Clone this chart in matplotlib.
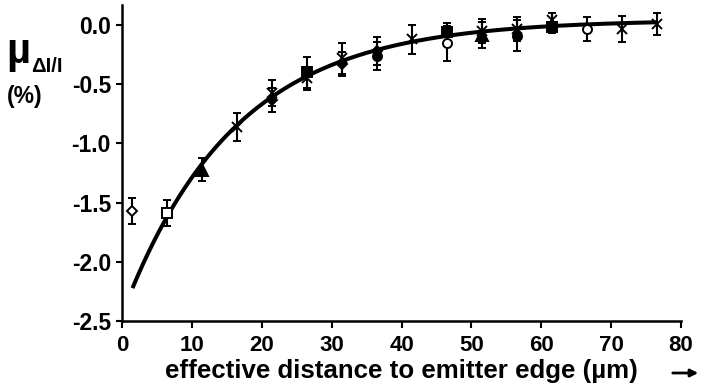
import numpy as np
import matplotlib
matplotlib.use("Agg")
import matplotlib.pyplot as plt

plt.rcParams['font.family'] = ['Liberation Sans', 'DejaVu Sans']
plt.rcParams['font.weight'] = 'bold'

# Measurements grouped by marker style: distance (um), mean (%), error (%)
open_diamond_x = [1.5]
open_diamond_y = [-1.57]
open_diamond_e = [0.11]

open_square_x = [6.5]
open_square_y = [-1.59]
open_square_e = [0.11]

triangle_x = [11.5, 51.5]
triangle_y = [-1.22, -0.085]
triangle_e = [0.10, 0.11]

cross_x = [16.5, 21.5, 26.5, 31.5, 41.5, 51.5, 56.5, 61.5, 71.5, 76.5]
cross_y = [-0.86, -0.57, -0.45, -0.28, -0.12, -0.05, -0.03, 0.04, -0.03, 0.01]
cross_e = [0.12, 0.11, 0.10, 0.13, 0.12, 0.10, 0.10, 0.06, 0.11, 0.095]

filled_diamond_x = [21.5, 31.5, 36.5]
filled_diamond_y = [-0.63, -0.33, -0.22]
filled_diamond_e = [0.10, 0.10, 0.12]

filled_circle_x = [36.5, 56.5]
filled_circle_y = [-0.26, -0.09]
filled_circle_e = [0.12, 0.13]

open_circle_x = [46.5, 66.5]
open_circle_y = [-0.155, -0.03]
open_circle_e = [0.15, 0.10]

filled_square_x = [26.5, 46.5, 61.5]
filled_square_y = [-0.40, -0.06, -0.02]
filled_square_e = [0.13, 0.08, 0.05]

# Exponential fit: y = offset - amplitude * exp(-x / length)
fit_offset = 0.045
fit_amplitude = 2.49
fit_length = 16.0
fit_start, fit_end = 1.5, 76.5

x_ticks = [0, 10, 20, 30, 40, 50, 60, 70, 80]
y_ticks = [0.0, -0.5, -1.0, -1.5, -2.0, -2.5]

W, H = 702, 392
fig = plt.figure(figsize=(W / 100, H / 100), dpi=100)
ax = fig.add_axes([122 / W, 1 - 321 / H, (681 - 122) / W, (321 - 5) / H])

xf = np.linspace(fit_start, fit_end, 300)
yf = fit_offset - fit_amplitude * np.exp(-xf / fit_length)
ax.plot(xf, yf, color='black', lw=2.9, solid_capstyle='butt', zorder=3)

eb = dict(color='black', ecolor='black', elinewidth=1.5, capsize=3.0,
          capthick=1.5, linestyle='none', zorder=4, markersize=6.5,
          markeredgewidth=1.4)

ax.errorbar(open_diamond_x, open_diamond_y, yerr=open_diamond_e, marker='D',
            mfc='white', mec='black', **{**eb, 'markersize': 5})
ax.errorbar(open_square_x, open_square_y, yerr=open_square_e, marker='s',
            mfc='white', mec='black', **eb)
ax.errorbar(triangle_x, triangle_y, yerr=triangle_e, marker='^',
            mfc='black', mec='black', **{**eb, 'markersize': 8})
ax.errorbar(cross_x, cross_y, yerr=cross_e, marker='x',
            mfc='black', mec='black', **eb)
ax.errorbar(filled_diamond_x, filled_diamond_y, yerr=filled_diamond_e,
            marker='D', mfc='black', mec='black', **{**eb, 'markersize': 5.5})
ax.errorbar(filled_circle_x, filled_circle_y, yerr=filled_circle_e,
            marker='o', mfc='black', mec='black', **eb)
ax.errorbar(open_circle_x, open_circle_y, yerr=open_circle_e, marker='o',
            mfc='white', mec='black', **eb)
ax.errorbar(filled_square_x, filled_square_y, yerr=filled_square_e,
            marker='s', mfc='black', mec='black', **eb)

ax.set_xlim(0, 80)
ax.set_ylim(-2.5, 0.17)
ax.set_xticks(x_ticks)
ax.set_yticks(y_ticks)
ax.set_xticklabels([str(t) for t in x_ticks])
ax.set_yticklabels([f"{t:.1f}" for t in y_ticks])

for side in ('top', 'right'):
    ax.spines[side].set_visible(False)
for side in ('left', 'bottom'):
    ax.spines[side].set_linewidth(1.8)
ax.tick_params(axis='x', direction='out', length=5, width=1.5,
               labelsize=16, pad=5)
ax.tick_params(axis='y', direction='out', length=4, width=1.5,
               labelsize=16.5, pad=4)
for lab in ax.get_xticklabels() + ax.get_yticklabels():
    lab.set_fontweight('bold')

ax.set_xlabel('effective distance to emitter edge (µm)', fontsize=18.6,
              fontweight='bold', labelpad=2)

fig.text(6 / W, 1 - 63 / H, 'µ', fontsize=30, fontweight='bold',
         va='baseline', ha='left')
fig.text(31 / W, 1 - 72 / H, 'ΔI/I', fontsize=14.5, fontweight='bold',
         va='baseline', ha='left')
fig.text(7 / W, 1 - 103 / H, '(%)', fontsize=16.5, fontweight='bold',
         va='baseline', ha='left')

ax.annotate('', xy=(701 / W, 1 - 373 / H), xytext=(670 / W, 1 - 373 / H),
            xycoords='figure fraction', textcoords='figure fraction',
            annotation_clip=False,
            arrowprops=dict(arrowstyle='-|>', color='black', lw=2,
                            mutation_scale=11))

fig.savefig('out.png', dpi=100)
